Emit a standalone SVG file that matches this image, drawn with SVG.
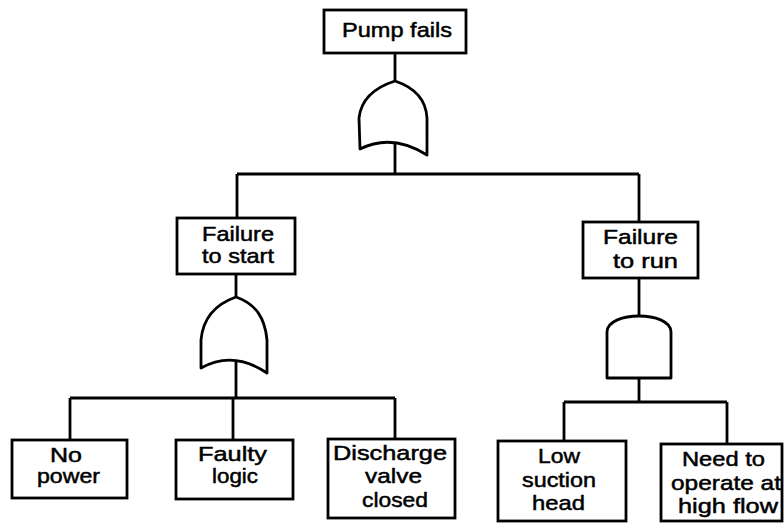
<svg xmlns="http://www.w3.org/2000/svg" width="784" height="525" viewBox="0 0 784 525">
<style>
.box{fill:#fff;stroke:#000;stroke-width:2.8}
.gate{fill:#fff;stroke:#000;stroke-width:2.8;stroke-linejoin:round}
.con{fill:none;stroke:#000;stroke-width:2.8}
text{font-family:"Liberation Sans",Arial,sans-serif;font-size:21px;fill:#000;stroke:#000;stroke-width:0.5}
</style>
<rect width="784" height="525" fill="#fff"/>
<g id="connectors">
<path class="con" d="M395,52V82M395,140V174M237,174H639M237,174V218M639,174V222"/>
<path class="con" d="M236,274V298M236,358V398M70,398H395M70,398V440M233,398V440M395,398V439"/>
<path class="con" d="M639,278V316M639,378V402M564,402H727M564,402V441M727,402V444"/>
</g>
<g id="top">
<rect class="box" x="324" y="10" width="142" height="43"/>
<text x="342" y="37" textLength="110" lengthAdjust="spacingAndGlyphs">Pump fails</text>
</g>
<g id="or_top">
<path class="gate" d="M395,81C373,88 361,100 359,118L360,149Q392,133 427,155L427,118C426,100 416,88 395,81Z"/>
</g>
<g id="fail_start">
<rect class="box" x="177" y="218" width="118" height="56"/>
<text x="202" y="241" textLength="72" lengthAdjust="spacingAndGlyphs">Failure</text>
<text x="202" y="263" textLength="72" lengthAdjust="spacingAndGlyphs">to start</text>
</g>
<g id="or_left">
<path class="gate" d="M236,297C216,304 203,318 201,340L201,368Q233,350 267,373L267,340C265,318 256,304 236,297Z"/>
</g>
<g id="fail_run">
<rect class="box" x="583" y="222" width="115" height="56"/>
<text x="603" y="244" textLength="75" lengthAdjust="spacingAndGlyphs">Failure</text>
<text x="613" y="268" textLength="65" lengthAdjust="spacingAndGlyphs">to run</text>
</g>
<g id="and_right">
<path class="gate" d="M607,378V332C607,321 624,316 639,316C654,316 671,321 671,332V378Z"/>
</g>
<g id="no_power">
<rect class="box" x="12" y="440" width="115" height="58"/>
<text x="50" y="462" textLength="32" lengthAdjust="spacingAndGlyphs">No</text>
<text x="37" y="483" textLength="63" lengthAdjust="spacingAndGlyphs">power</text>
</g>
<g id="faulty_logic">
<rect class="box" x="176" y="440" width="117" height="59"/>
<text x="198" y="461" textLength="69" lengthAdjust="spacingAndGlyphs">Faulty</text>
<text x="212" y="483" textLength="46" lengthAdjust="spacingAndGlyphs">logic</text>
</g>
<g id="discharge">
<rect class="box" x="328" y="439" width="127" height="79"/>
<text x="333" y="460" textLength="114" lengthAdjust="spacingAndGlyphs">Discharge</text>
<text x="365" y="483" textLength="57" lengthAdjust="spacingAndGlyphs">valve</text>
<text x="362" y="507" textLength="66" lengthAdjust="spacingAndGlyphs">closed</text>
</g>
<g id="low_suction">
<rect class="box" x="498" y="441" width="128" height="80"/>
<text x="538" y="463" textLength="42" lengthAdjust="spacingAndGlyphs">Low</text>
<text x="522" y="487" textLength="74" lengthAdjust="spacingAndGlyphs">suction</text>
<text x="532" y="510" textLength="53" lengthAdjust="spacingAndGlyphs">head</text>
</g>
<g id="high_flow">
<rect class="box" x="661" y="444" width="121" height="77"/>
<text x="682" y="466" textLength="83" lengthAdjust="spacingAndGlyphs">Need to</text>
<text x="671" y="490" textLength="110" lengthAdjust="spacingAndGlyphs">operate at</text>
<text x="678" y="513" textLength="100" lengthAdjust="spacingAndGlyphs">high flow</text>
</g>
</svg>
